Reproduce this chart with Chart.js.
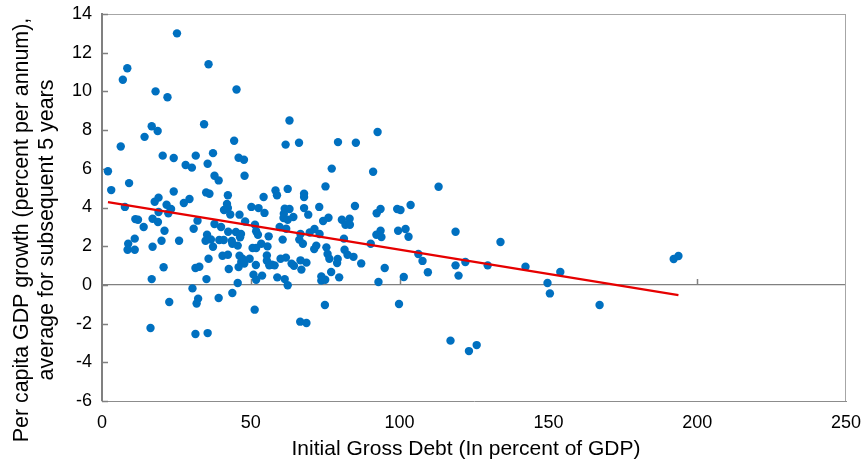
<!DOCTYPE html>
<html>
<head>
<meta charset="utf-8">
<script src="https://cdn.jsdelivr.net/npm/chart.js@4.4.1/dist/chart.umd.min.js"></script>
<style>
html,body{margin:0;padding:0;background:#fff;}
#wrap{width:867px;height:463px;}
</style>
</head>
<body>
<div id="wrap"><canvas id="c" width="867" height="463"></canvas></div>
<script>
// Initial gross debt (% of GDP)
const debt = [
25.2,8.5,7.0,35.8,45.2,18.0,22.0,16.7,18.7,14.3,34.3,6.3,44.4,
63.0,61.7,66.2,79.3,85.3,
92.6,91.1,113.1,85.0,93.6,92.3,99.2,100.3,103.7,93.6,92.2,93.9,99.5,102.0,103.0,90.3,118.8,106.3,107.7,87.1,95.0,109.5,118.8,122.1,119.8,129.6,101.4,92.9,84.5,
99.8,117.1,123.3,125.9,
133.9,142.3,154.0,149.7,150.5,167.2,192.1,193.7,
20.4,24.1,31.5,37.3,2.0,28.1,30.2,35.5,9.1,37.8,39.2,3.1,24.1,35.0,36.1,42.3,19.0,17.7,29.4,27.5,21.7,42.0,42.3,7.7,23.2,19.0,22.3,41.0,43.1,11.2,12.1,17.0,18.8,32.1,37.8,40.0,14.0,30.8,21.0,42.4,35.3,11.0,36.6,34.8,39.4,40.9,43.6,20.0,25.9,8.8,8.6,11.0,17.0,37.3,43.8,35.8,40.5,42.3,20.7,31.4,32.7,42.6,16.7,35.1,30.4,
22.6,32.3,31.8,39.2,43.8,16.3,31.4,35.5,
45.9,47.7,77.2,47.9,75.1,58.3,58.8,62.4,67.9,67.9,54.3,50.2,52.6,54.6,46.2,61.4,63.0,61.1,73.0,67.9,69.3,64.3,61.0,62.4,76.1,74.3,80.6,83.2,81.8,83.3,48.1,51.4,59.7,61.9,71.4,69.8,66.7,73.1,45.0,46.7,51.8,52.4,56.0,46.4,45.6,60.7,66.3,67.5,53.5,51.8,50.6,55.6,81.3,72.0,71.3,75.4,81.5,82.5,75.8,76.4,79.2,79.0,46.2,47.2,49.6,46.8,47.8,45.9,55.4,55.4,57.1,56.2,58.0,51.7,60.0,61.8,63.7,64.5,66.7,68.7,67.0,50.9,53.8,51.8,58.9,61.4,62.4,73.7,73.7,75.0,77.0,79.7,45.6,
51.3,74.9,66.6,68.7
];
// Per capita GDP growth, average over subsequent 5 years (% per annum)
const growth = [
13.0,11.2,10.6,11.4,10.1,10.0,9.7,8.2,7.95,7.65,8.3,7.15,7.45,
8.5,7.25,7.35,7.38,7.35,
7.9,5.85,5.07,4.08,3.92,3.70,3.92,3.87,4.13,2.80,2.59,2.47,2.80,2.89,2.49,2.13,2.75,1.60,1.24,1.11,0.87,0.65,1.01,1.18,0.48,1.01,0.41,0.15,1.45,
-0.99,-2.88,-3.42,-3.11,
2.22,0.94,0.67,0.10,-0.44,-1.04,1.34,1.49,
6.68,6.56,6.68,6.81,5.87,6.20,6.06,6.26,5.26,5.64,5.40,4.90,4.83,4.78,4.71,4.63,4.51,4.30,4.44,4.23,4.14,4.18,3.98,4.03,3.92,3.77,3.70,3.87,3.64,3.40,3.37,3.42,3.25,3.32,3.15,2.99,2.99,2.90,2.80,2.75,2.59,2.39,2.35,2.28,2.32,2.32,2.27,2.28,2.28,2.13,1.82,1.82,1.97,1.97,2.13,1.35,1.51,1.56,0.91,0.87,0.94,0.82,0.30,0.30,-0.18,
-0.88,-0.71,-0.96,-0.68,-0.42,-2.23,-2.54,-2.49,
6.57,6.47,6.01,5.64,5.09,4.88,4.63,4.96,4.71,4.54,4.54,4.03,3.97,3.72,3.63,3.94,3.92,3.68,4.03,3.97,3.63,3.51,3.46,3.37,3.47,3.30,3.37,3.42,3.11,3.11,3.28,3.11,2.99,2.90,2.89,2.71,2.63,2.63,2.73,2.63,2.77,2.59,2.51,2.46,2.03,2.34,2.34,2.13,2.13,1.91,1.91,1.99,2.39,2.03,1.85,1.94,1.82,1.56,1.60,1.35,1.34,1.13,1.51,1.35,1.35,1.18,1.10,0.92,1.52,1.25,1.04,1.01,1.01,1.03,1.35,1.41,1.10,0.99,1.27,1.15,0.79,0.53,0.48,0.27,0.39,0.30,-0.02,0.44,0.22,0.27,0.67,0.39,0.10,
-1.28,-1.04,-1.90,-1.97
];
// Linear trend line end points
const trendDebt = [2.0, 193.7];
const trendGrowth = [4.28, -0.53];

const xTitle = 'Initial Gross Debt (In percent of GDP)';
const yTitle = ['Per capita GDP growth (percent per annum),', 'average for subsequent 5 years'];

const FONT = "'Liberation Sans', Arial, sans-serif";

const framePlugin = {
  id: 'frame',
  beforeDatasetsDraw(chart) {
    const {ctx, chartArea: a, scales: {x, y}} = chart;
    ctx.save();
    ctx.strokeStyle = '#A6A6A6';
    ctx.lineWidth = 1;
    ctx.beginPath();
    ctx.moveTo(a.left, a.top + 0.5); ctx.lineTo(a.right, a.top + 0.5);
    ctx.moveTo(a.right - 0.5, a.top); ctx.lineTo(a.right - 0.5, a.bottom);
    ctx.stroke();
    ctx.strokeStyle = '#808080';
    ctx.lineWidth = 1.5;
    ctx.beginPath();
    y.ticks.forEach(t => {
      const py = Math.round(y.getPixelForValue(t.value)) + 0.5;
      ctx.moveTo(a.left, py); ctx.lineTo(a.left + 6, py);
    });
    const z = y.getPixelForValue(0);
    x.ticks.forEach(t => {
      if (t.value <= 0 || t.value >= 250) return;
      const px = Math.round(x.getPixelForValue(t.value)) + 0.5;
      ctx.moveTo(px, z); ctx.lineTo(px, z - 6);
    });
    ctx.stroke();
    ctx.restore();
  },
  afterDraw(chart) {
    // axis titles (text taken from the scale options)
    const {ctx, scales: {x, y}} = chart;
    ctx.save();
    ctx.fillStyle = '#000';
    ctx.textAlign = 'center';
    ctx.textBaseline = 'middle';
    ctx.font = "21px " + FONT;
    ctx.fillText(x.options.title.text, 466, 449);
    const lines = [].concat(y.options.title.text);
    ctx.translate(0, 230);
    ctx.rotate(-Math.PI / 2);
    ctx.font = "21.4px " + FONT;
    lines.forEach((ln, i) => ctx.fillText(ln, 0, 22 + i * 25));
    ctx.restore();
  }
};

new Chart(document.getElementById('c'), {
  data: {
    datasets: [
      {
        type: 'line',
        order: 0,
        data: trendDebt.map((d, i) => ({x: d, y: trendGrowth[i]})),
        borderColor: '#E60000',
        borderWidth: 2.2,
        pointRadius: 0,
        fill: false
      },
      {
        type: 'scatter',
        order: 1,
        data: debt.map((d, i) => ({x: d, y: growth[i]})),
        backgroundColor: '#0070C0',
        borderColor: '#0070C0',
        borderWidth: 0,
        pointRadius: 4.2,
        pointHoverRadius: 4.2
      }
    ]
  },
  options: {
    responsive: false,
    animation: false,
    devicePixelRatio: 1,
    layout: {padding: {top: 14, right: 21, left: 0, bottom: 0}},
    plugins: {legend: {display: false}, tooltip: {enabled: false}},
    scales: {
      x: {
        type: 'linear',
        position: 'bottom',
        min: 0, max: 250,
        ticks: {stepSize: 50, color: '#000', font: {family: FONT, size: 18}, padding: 11, maxRotation: 0},
        grid: {display: false, drawTicks: false},
        border: {display: true, color: '#8C8C8C', width: 1},
        title: {display: false, text: xTitle},
        afterFit(s) { s.height = 62; s.paddingLeft = 0; s.paddingRight = 0; }
      },
      y: {
        type: 'linear',
        min: -6, max: 14,
        ticks: {stepSize: 2, color: '#000', font: {family: FONT, size: 18}, padding: 10},
        grid: {
          drawTicks: false,
          color: c => (c.tick && c.tick.value === 0) ? '#808080' : 'rgba(0,0,0,0)',
          lineWidth: 1.3
        },
        border: {display: true, color: '#808080', width: 2},
        title: {display: false, text: yTitle},
        afterFit(s) { s.width = 102; s.paddingTop = 0; s.paddingBottom = 0; }
      }
    }
  },
  plugins: [framePlugin]
});
</script>
</body>
</html>
